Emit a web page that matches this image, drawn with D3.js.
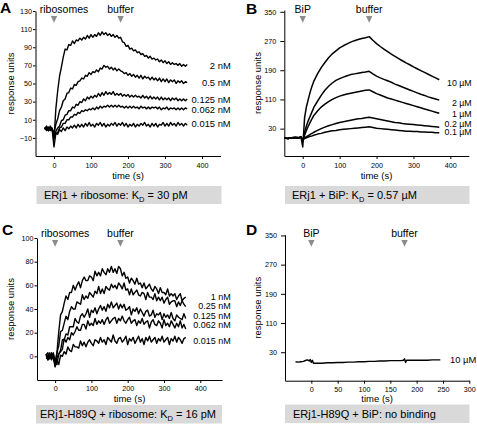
<!DOCTYPE html>
<html><head><meta charset="utf-8">
<script src="https://cdn.jsdelivr.net/npm/d3@7"></script>
<style>
body{margin:0;background:#fff;}
svg{display:block;}
</style></head><body>
<svg id="chart" width="477" height="429"></svg>
<script>
// ---------------- DATA ----------------
// Panel A: ERj1 + ribosomes (sampling grid every 5 s, -25 .. 360 s)
const timeA = d3.range(-25, 361, 5);
const labelsA = ["2 nM", "0.5 nM", "0.125 nM", "0.062 nM", "0.015 nM"];
const A_2nM = [0,3,-2,2,-1,-12,22,42,58,68,79,88,87,93,92,97,94,98,97,100,98,101,99,103,100,104,101,104,102,106,103,107,104,106,103,105,102,104,101,103,100,101,96,95,91,92,88,89,86,87,84,85,82,83,80,81,78,80,77,78,76,77,74,76,73,75,72,74,71,73,71,72,70,72,69,71,69,71];
const A_05nM = [1,-2,2,-1,1,-5,5,11,20,24,31,33,39,40,45,44,49,48,52,53,56,55,59,58,62,60,63,62,65,63,67,66,70,68,69,66,68,65,67,64,66,64,63,61,62,59,61,58,60,57,59,56,59,55,58,56,57,54,57,54,56,53,56,52,55,52,55,51,54,52,54,50,53,51,53,50,52,51];
const A_0125nM = [-1,2,-2,1,-1,-8,-3,1,3,9,10,15,16,20,20,24,23,27,26,30,29,33,31,35,33,36,34,37,35,39,36,40,37,41,38,40,38,41,37,39,37,39,36,38,36,38,35,37,35,37,35,36,34,37,34,36,33,36,33,35,33,35,32,35,32,34,32,34,31,34,32,34,31,33,31,33,31,33];
const A_0062nM = [2,-1,1,-2,0,-10,-5,-4,1,2,6,6,10,10,13,13,16,15,18,17,20,19,21,20,22,21,23,21,24,22,25,23,25,24,26,24,26,24,26,24,26,24,25,23,25,23,25,23,25,23,24,22,25,23,24,22,24,22,24,23,24,22,24,21,23,22,24,21,23,22,23,21,23,21,23,21,23,22];
const A_0015nM = [0,2,-2,3,-1,-20,-5,-6,-1,-3,1,-2,2,0,3,1,4,1,5,2,5,2,6,3,7,3,5,2,6,4,7,3,6,2,5,3,6,4,7,3,6,4,7,3,6,2,5,3,6,2,5,3,6,4,7,3,5,2,6,3,6,2,5,4,7,3,6,3,7,4,6,3,7,4,6,3,6,4];
const markersA = ["ribosomes", "buffer"];
const markerTimesA = [0, 180];

// Panel B: ERj1 + BiP
const timeB = [-50,-40,-30,-20,-10,-5,0,5,10,15,20,25,30,40,50,60,70,80,90,100,110,120,130,140,150,160,170,180,190,200,210,220,230,240,250,260,270,280,290,300,310,320,330,340,350,360,370];
const labelsB = ["10 \u00b5M", "2 \u00b5M", "1 \u00b5M", "0.2 \u00b5M", "0.1 \u00b5M"];
const B_10uM = [4,3,5,6,5,8,-20,60,90,110,130,146,160,180,197,211,224,235,243,251,257,262,267,271,274,277,279,282,272,263,255,248,241,234,228,222,216,210,205,199,194,189,184,179,174,169,164];
const B_2uM = [4,3,5,6,5,7,-5,20,38,52,64,76,88,105,121,135,146,155,162,167,171,175,178,180,182,184,185,187,180,174,169,165,161,157,152,148,144,140,136,132,128,124,121,117,114,111,108];
const B_1uM = [4,3,5,6,5,7,-5,12,25,37,47,57,66,78,89,97,104,110,115,119,122,125,127,129,131,133,135,136,131,126,122,118,114,111,108,105,102,99,96,93,90,87,84,81,78,75,72];
const B_02uM = [4,3,5,6,5,7,0,4,8,11,14,17,20,25,30,34,38,41,44,47,49,51,53,55,57,58,60,61,59,57,55,53,51,49,47,46,44,43,42,41,40,39,38,37,36,35,34];
const B_01uM = [4,3,5,6,5,7,1,3,5,7,9,10,12,15,17,20,22,24,25,27,28,29,30,31,32,33,34,35,33,31,30,29,28,27,26,25,24,23,23,22,22,21,21,20,20,19,19];
const markersB = ["BiP", "buffer"];
const markerTimesB = [0, 180];

// Panel C: ERj1-H89Q + ribosomes (every 5 s, -25 .. 360 s)
const timeC = d3.range(-25, 361, 5);
const labelsC = ["1 nM", "0.25 nM", "0.125 nM", "0.062 nM", "0.015 nM"];
const C_1nM = [2,-3,1,-1,3,-5,3,21,35,38,45,51,48,54,54,60,56,60,63,58,64,67,64,64,68,67,64,72,68,71,68,74,71,69,74,71,76,71,74,70,76,74,68,71,66,67,62,66,64,61,66,61,62,58,62,57,59,61,57,55,59,57,53,58,54,54,52,57,51,53,51,53,48,51,53,47,49,50];
const C_025nM = [1,3,-2,0,2,-8,3,9,21,22,28,34,31,38,42,40,40,46,45,44,52,48,51,49,54,52,50,55,53,59,53,57,53,59,57,56,61,58,60,57,62,60,57,62,56,57,52,57,52,54,56,52,51,54,53,48,54,50,50,48,53,47,50,47,50,45,48,50,44,46,47,47,42,46,43,47,44,42];
const C_0125nM = [1,-3,0,2,-1,-9,-1,2,5,14,14,19,18,25,25,25,32,29,28,34,36,33,36,40,33,39,37,41,36,40,43,39,42,38,44,41,46,41,43,45,40,44,41,44,39,40,42,35,40,38,41,36,40,37,34,38,39,34,35,39,33,36,35,37,31,36,33,35,32,37,32,30,35,33,32,31,36,32];
const C_0062nM = [2,0,-2,3,-1,-6,-7,2,4,6,15,12,16,14,20,18,21,25,22,22,27,27,23,30,26,28,26,32,27,30,28,31,27,31,33,28,30,32,33,28,32,30,34,30,28,31,33,28,30,31,26,30,28,32,27,29,30,24,29,31,27,26,30,28,24,31,26,28,25,30,27,24,28,25,30,24,27,23];
const C_0015nM = [-2,-1,3,-3,1,-7,-3,-7,1,0,4,2,8,5,4,10,8,8,7,13,9,12,8,12,14,11,9,14,13,11,16,12,14,10,16,14,12,18,13,11,15,16,12,14,17,10,15,13,16,11,14,17,12,15,10,16,13,17,12,14,16,11,15,13,17,12,14,16,10,15,13,17,12,16,14,11,15,16];
const markersC = ["ribosomes", "buffer"];
const markerTimesC = [0, 180];

// Panel D: ERj1-H89Q + BiP
const timeD = [-30,-25,-20,-15,-10,-7,-4,-2,0,2,4,10,20,30,40,50,60,70,80,90,100,110,120,130,140,150,160,170,175,177,179,181,190,200,210,220,230,240,245];
const labelsD = ["10 \u00b5M"];
const D_10uM = [4,3,4,5,8,9,6,10,2,8,0,0,0,1,1,2,2,3,3,4,4,5,5,6,6,7,7,7,8,12,2,8,8,8,8,8,9,9,9];
const markersD = ["BiP", "buffer"];
const markerTimesD = [0, 177];

const ticksX_ABC = [0, 100, 200, 300, 400];
const ticksX_D = [0, 50, 100, 150, 200, 250, 300];
const ticksY_A = [-10, 10, 30, 50, 70, 90, 110, 130];
const ticksY_BD = [30, 110, 190, 270, 350];
const ticksY_C = [0, 20, 40, 60, 80, 100];

const boxA = ["ERj1 + ribosome: K", "D", " = 30 pM"];
const boxB = ["ERj1 + BiP: K", "D", " = 0.57 \u00b5M"];
const boxC = ["ERj1-H89Q + ribosome: K", "D", " = 16 pM"];
const boxD = ["ERj1-H89Q + BiP: no binding"];

// ---------------- LAYOUT ----------------
const FONT = "'Liberation Sans', Arial, Helvetica, sans-serif";
const svg = d3.select("#chart");
svg.append("rect").attr("width", 477).attr("height", 429).attr("fill", "#fff");

const panels = [
  { letter: "A", lx: 0, ly: 13, xd: [-50, 450], xr: [35.5, 220.5], yd: [-30, 130], yr: [156, 11],
    xt: ticksX_ABC, yt: ticksY_A, ytk: 2.5, ypad: 1, xpad: 4, xtitle: 23, ytitleX: 13.5,
    t: timeA, series: [A_2nM, A_05nM, A_0125nM, A_0062nM, A_0015nM], sw: 1.4,
    labels: labelsA, labelY: [65.5, 83, 99.7, 109.7, 123.5], labelX: 230.7, anchor: "end", lfs: 9.4,
    marks: markersA, markT: markerTimesA, markDx: [10, 0], triTop: 16,
    box: [36.5, 186, 185, 18], boxText: boxA, boxTx: 44, boxTy: 199 },
  { letter: "B", lx: 246, ly: 14, xd: [-50, 450], xr: [284.3, 468.8], yd: [-45, 355], yr: [156, 10],
    xt: ticksX_ABC, yt: ticksY_BD, ytk: 4, ypad: 4, xpad: 4, xtitle: 23, ytitleX: 261,
    t: timeB, series: [B_10uM, B_2uM, B_1uM, B_02uM, B_01uM], sw: 1.5,
    labels: labelsB, labelY: [83, 102.5, 114, 123.3, 131.8], labelX: 471.7, anchor: "end", lfs: 8.8,
    marks: markersB, markT: markerTimesB, markDx: [0, 0], triTop: 16,
    box: [285, 186, 184.5, 18], boxText: boxB, boxTx: 292, boxTy: 199 },
  { letter: "C", lx: 2, ly: 235, xd: [-50, 460], xr: [37, 222], yd: [-20, 100], yr: [380, 238],
    xt: ticksX_ABC, yt: ticksY_C, ytk: 2.5, ypad: 1, xpad: 3, xtitle: 21.8, ytitleX: 13.5,
    t: timeC, series: [C_1nM, C_025nM, C_0125nM, C_0062nM, C_0015nM], sw: 1.4,
    labels: labelsC, labelY: [296.5, 306, 315.5, 325, 340.5], labelX: 230.7, anchor: "end", lfs: 9,
    marks: markersC, markT: markerTimesC, markDx: [10, 0], triTop: 240,
    box: [36, 405, 186, 18.5], boxText: boxC, boxTx: 40, boxTy: 418.3 },
  { letter: "D", lx: 246, ly: 235, xd: [-50, 300], xr: [285, 469.3], yd: [-48, 352], yr: [380.7, 234.7],
    xt: ticksX_D, yt: ticksY_BD, ytk: 4, ypad: 4, xpad: 3, xtitle: 21.5, ytitleX: 261,
    t: timeD, series: [D_10uM], sw: 1.4,
    labels: labelsD, labelY: [360], labelX: 450, anchor: "start", lfs: 9.4,
    marks: markersD, markT: markerTimesD, markDx: [0, 0], triTop: 240,
    box: [285, 404.5, 184.5, 18.5], boxText: boxD, boxTx: 293, boxTy: 417.8 }
];

panels.forEach(c => {
  const x = d3.scaleLinear().domain(c.xd).range(c.xr);
  const y = d3.scaleLinear().domain(c.yd).range(c.yr);
  const g = svg.append("g");

  const gx = g.append("g").attr("transform", `translate(0,${c.yr[0]})`)
    .call(d3.axisBottom(x).tickValues(c.xt).tickSizeInner(3).tickSizeOuter(0).tickPadding(c.xpad));
  const gy = g.append("g").attr("transform", `translate(${c.xr[0]},0)`)
    .call(d3.axisLeft(y).tickValues(c.yt).tickSizeInner(c.ytk).tickSizeOuter(0).tickPadding(c.ypad));
  [gx, gy].forEach(a => {
    a.attr("font-size", 7.2).attr("font-family", FONT);
    a.select(".domain").attr("stroke", "#000").attr("stroke-width", 1);
    a.selectAll(".tick line").attr("stroke", "#000");
    a.selectAll(".tick text").attr("fill", "#000");
  });

  g.append("text").attr("x", (c.xr[0] + c.xr[1]) / 2).attr("y", c.yr[0] + c.xtitle)
    .attr("text-anchor", "middle").attr("font-family", FONT).attr("font-size", 9.5).text("time (s)");
  g.append("text").attr("transform", `translate(${c.ytitleX},${(c.yr[0] + c.yr[1]) / 2}) rotate(-90)`)
    .attr("text-anchor", "middle").attr("font-family", FONT).attr("font-size", 9.5).text("response units");

  const line = d3.line().x((d, i) => x(c.t[i])).y(d => y(d));
  c.series.forEach(s => {
    g.append("path").datum(s).attr("d", line).attr("fill", "none")
      .attr("stroke", "#000").attr("stroke-width", c.sw).attr("stroke-linejoin", "round");
  });

  c.marks.forEach((m, i) => {
    const mx = x(c.markT[i]);
    g.append("path").attr("d", `M${mx - 3.2},${c.triTop}L${mx + 3.2},${c.triTop}L${mx},${c.triTop + 6.8}Z`)
      .attr("fill", "#8c8c8c");
    g.append("text").attr("x", mx + c.markDx[i]).attr("y", c.triTop - 3.3)
      .attr("text-anchor", "middle").attr("font-family", FONT).attr("font-size", 10.5).text(m);
  });

  c.labels.forEach((l, i) => {
    g.append("text").attr("x", c.labelX).attr("y", c.labelY[i] + 3.2)
      .attr("text-anchor", c.anchor).attr("font-family", FONT).attr("font-size", c.lfs).text(l);
  });

  g.append("rect").attr("x", c.box[0]).attr("y", c.box[1]).attr("width", c.box[2]).attr("height", c.box[3])
    .attr("fill", "#d9d9d9");
  const bt = g.append("text").attr("x", c.boxTx).attr("y", c.boxTy)
    .attr("font-family", FONT).attr("font-size", 11);
  bt.append("tspan").text(c.boxText[0]);
  if (c.boxText.length > 1) {
    bt.append("tspan").attr("font-size", 7.5).attr("dy", 2.5).text(c.boxText[1]);
    bt.append("tspan").attr("dy", -2.5).text(c.boxText[2]);
  }

  g.append("text").attr("x", c.lx).attr("y", c.ly).attr("font-family", FONT)
    .attr("font-weight", "bold").attr("font-size", 15.5).text(c.letter);
});
</script>
</body></html>
